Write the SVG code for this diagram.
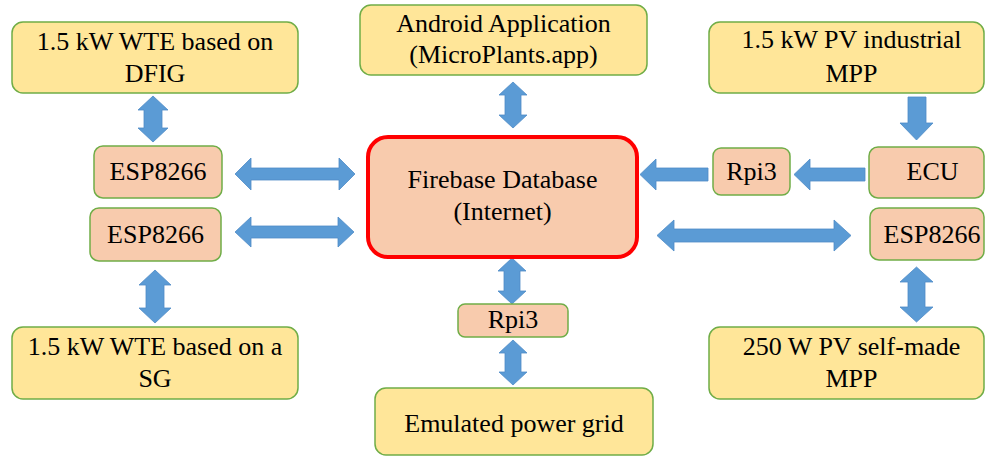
<svg xmlns="http://www.w3.org/2000/svg" width="986" height="458" viewBox="0 0 986 458" font-family="Liberation Serif, Times New Roman, serif">
<style>
.y{fill:#FFE699;stroke:#70AD47;stroke-width:1.5}
.s{fill:#F8CBAD;stroke:#70AD47;stroke-width:1.5}
text{font-family:"Liberation Serif",serif;font-size:26px;fill:#000;text-anchor:middle}
.a{fill:#5B9BD5;stroke:#4F8CC6;stroke-width:0.8}
</style>
<rect width="986" height="458" fill="#fff"/>
<g id="connectors">
<path class="a" d="M235 174 L251 158 L251 168 L339 168 L339 158 L355 174 L339 190 L339 180 L251 180 L251 190 Z"/>
<path class="a" d="M235 232 L251 217 L251 226 L338 226 L338 217 L354 232 L338 247 L338 238 L251 238 L251 247 Z"/>
<path class="a" d="M153 96 L168 110 L162 110 L162 128 L168 128 L153 142 L138 128 L144 128 L144 110 L138 110 Z"/>
<path class="a" d="M155 270 L171 285 L164 285 L164 308 L171 308 L155 323 L139 308 L146 308 L146 285 L139 285 Z"/>
<path class="a" d="M513 82 L527 95 L521 95 L521 115 L527 115 L513 128 L499 115 L505 115 L505 95 L499 95 Z"/>
<path class="a" d="M512 258 L526 271 L520 271 L520 291 L526 291 L512 304 L498 291 L504 291 L504 271 L498 271 Z"/>
<path class="a" d="M513 340 L527 353 L521 353 L521 372 L527 372 L513 385 L499 372 L505 372 L505 353 L499 353 Z"/>
<path class="a" d="M908 97 L926 97 L926 123 L933 123 L916.5 140 L900 123 L908 123 Z"/>
<path class="a" d="M794 174.5 L810 159 L810 168 L865 168 L865 181 L810 181 L810 190 Z"/>
<path class="a" d="M640 174.5 L656 159 L656 168 L708 168 L708 181 L656 181 L656 190 Z"/>
<path class="a" d="M657 235.5 L674 220 L674 229 L834 229 L834 220 L851 235.5 L834 251 L834 242 L674 242 L674 251 Z"/>
<path class="a" d="M916.5 267 L933 282 L925 282 L925 307 L933 307 L916.5 322 L900 307 L908 307 L908 282 L900 282 Z"/>
</g>
<g id="wte_dfig"><rect class="y" x="12" y="22" width="286" height="71" rx="11"/><text x="155" y="50">1.5 kW WTE based on</text><text x="155" y="82">DFIG</text></g>
<g id="esp_left1"><rect class="s" x="94" y="146" width="128" height="52" rx="9"/><text x="158" y="180">ESP8266</text></g>
<g id="esp_left2"><rect class="s" x="90" y="208" width="131" height="53" rx="9"/><text x="155.5" y="243">ESP8266</text></g>
<g id="wte_sg"><rect class="y" x="12" y="327" width="286" height="72" rx="11"/><text x="155" y="355">1.5 kW WTE based on a</text><text x="155" y="387">SG</text></g>
<g id="android"><rect class="y" x="360" y="5" width="287" height="70" rx="11"/><text x="503.5" y="32">Android Application</text><text x="503.5" y="63">(MicroPlants.app)</text></g>
<g id="firebase"><rect x="368" y="137" width="269" height="120" rx="20" fill="#F8CBAD" stroke="#FF0000" stroke-width="4"/><text x="502.5" y="188">Firebase Database</text><text x="502.5" y="220">(Internet)</text></g>
<g id="rpi3_mid"><rect class="s" x="458" y="304" width="110" height="33" rx="7"/><text x="513" y="328">Rpi3</text></g>
<g id="emulated_grid"><rect class="y" x="375" y="388" width="278" height="67" rx="11"/><text x="514" y="432">Emulated power grid</text></g>
<g id="pv_industrial"><rect class="y" x="709" y="22" width="275" height="71" rx="11"/><text x="851.5" y="48">1.5 kW PV industrial</text><text x="851.5" y="82">MPP</text></g>
<g id="rpi3_right"><rect class="s" x="713" y="148" width="77" height="47" rx="8"/><text x="751.5" y="180">Rpi3</text></g>
<g id="ecu"><rect class="s" x="869" y="147" width="115" height="51" rx="9"/><text x="932.5" y="180">ECU</text></g>
<g id="esp_right"><rect class="s" x="870" y="208" width="114" height="52" rx="9"/><text x="932" y="243">ESP8266</text></g>
<g id="pv_selfmade"><rect class="y" x="709" y="327" width="275" height="72" rx="11"/><text x="851.5" y="355">250 W PV self-made</text><text x="851.5" y="387">MPP</text></g>
</svg>
